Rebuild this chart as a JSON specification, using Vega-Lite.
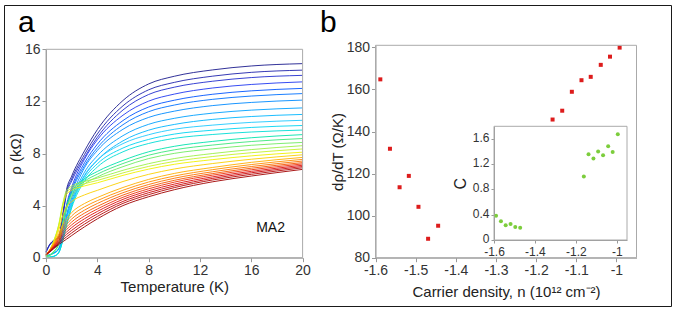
{
"$schema": "https://vega.github.io/schema/vega-lite/v6.json",
"width": 667, "height": 301,
"autosize": {"type": "none"},
"padding": {"left": 4, "top": 5, "right": 7, "bottom": 17},
"background": "white",
"config": {
  "view": {"stroke": "#1a1a1a", "strokeWidth": 1},
  "font": "Liberation Sans",
  "locale": {"number": {"decimal": ".", "thousands": ",", "grouping": [3], "currency": ["$", ""], "minus": "-"}},
  "axis": {"grid": false, "labelFlush": false, "labelOverlap": false, "labelFont": "Liberation Sans", "labelFontSize": 14, "labelColor": "#333", "titleFont": "Liberation Sans", "titleFontSize": 15, "titleFontWeight": "normal", "titleColor": "#222", "domainColor": "#999", "tickColor": "#999", "tickSize": 4, "labelPadding": 2, "titlePadding": 2}
},
"datasets": {
"rho": [
{"k":0,"t":0,"r":0.45},{"k":0,"t":0.3,"r":1.04},{"k":0,"t":0.6,"r":1.34},{"k":0,"t":1,"r":1.64},{"k":0,"t":1.3,"r":3.28},{"k":0,"t":1.6,"r":5.22},{"k":0,"t":2,"r":6.26},{"k":0,"t":3,"r":8.2},{"k":0,"t":4,"r":9.83},{"k":0,"t":6,"r":12.07},{"k":0,"t":8,"r":13.34},{"k":0,"t":10,"r":13.93},{"k":0,"t":13,"r":14.42},{"k":0,"t":16,"r":14.72},{"k":0,"t":20,"r":14.9},
{"k":1,"t":0,"r":0.43},{"k":1,"t":0.3,"r":1.01},{"k":1,"t":0.6,"r":1.3},{"k":1,"t":1,"r":1.58},{"k":1,"t":1.3,"r":3.17},{"k":1,"t":1.6,"r":5.04},{"k":1,"t":2,"r":6.05},{"k":1,"t":3,"r":7.92},{"k":1,"t":4,"r":9.5},{"k":1,"t":6,"r":11.66},{"k":1,"t":8,"r":12.89},{"k":1,"t":10,"r":13.46},{"k":1,"t":13,"r":13.94},{"k":1,"t":16,"r":14.23},{"k":1,"t":20,"r":14.4},
{"k":2,"t":0,"r":0.42},{"k":2,"t":0.3,"r":0.98},{"k":2,"t":0.6,"r":1.26},{"k":2,"t":1,"r":1.54},{"k":2,"t":1.3,"r":3.08},{"k":2,"t":1.6,"r":4.9},{"k":2,"t":2,"r":5.88},{"k":2,"t":3,"r":7.7},{"k":2,"t":4,"r":9.24},{"k":2,"t":6,"r":11.34},{"k":2,"t":8,"r":12.53},{"k":2,"t":10,"r":13.09},{"k":2,"t":13,"r":13.55},{"k":2,"t":16,"r":13.83},{"k":2,"t":20,"r":14.0},
{"k":3,"t":0,"r":0.27},{"k":3,"t":0.3,"r":0.54},{"k":3,"t":0.6,"r":0.81},{"k":3,"t":1,"r":1.08},{"k":3,"t":1.3,"r":2.3},{"k":3,"t":1.6,"r":4.05},{"k":3,"t":2,"r":5.4},{"k":3,"t":3,"r":7.56},{"k":3,"t":4,"r":9.05},{"k":3,"t":6,"r":10.94},{"k":3,"t":8,"r":12.02},{"k":3,"t":10,"r":12.56},{"k":3,"t":13,"r":13.03},{"k":3,"t":16,"r":13.3},{"k":3,"t":20,"r":13.5},
{"k":4,"t":0,"r":0.26},{"k":4,"t":0.3,"r":0.52},{"k":4,"t":0.6,"r":0.78},{"k":4,"t":1,"r":1.04},{"k":4,"t":1.3,"r":2.21},{"k":4,"t":1.6,"r":3.9},{"k":4,"t":2,"r":5.2},{"k":4,"t":3,"r":7.28},{"k":4,"t":4,"r":8.71},{"k":4,"t":6,"r":10.53},{"k":4,"t":8,"r":11.57},{"k":4,"t":10,"r":12.09},{"k":4,"t":13,"r":12.55},{"k":4,"t":16,"r":12.81},{"k":4,"t":20,"r":13.0},
{"k":5,"t":0,"r":0.25},{"k":5,"t":0.3,"r":0.5},{"k":5,"t":0.6,"r":0.76},{"k":5,"t":1,"r":1.01},{"k":5,"t":1.3,"r":2.14},{"k":5,"t":1.6,"r":3.78},{"k":5,"t":2,"r":5.04},{"k":5,"t":3,"r":7.06},{"k":5,"t":4,"r":8.44},{"k":5,"t":6,"r":10.21},{"k":5,"t":8,"r":11.21},{"k":5,"t":10,"r":11.72},{"k":5,"t":13,"r":12.16},{"k":5,"t":16,"r":12.41},{"k":5,"t":20,"r":12.6},
{"k":6,"t":0,"r":0.12},{"k":6,"t":0.3,"r":0.24},{"k":6,"t":0.6,"r":0.36},{"k":6,"t":1,"r":0.73},{"k":6,"t":1.3,"r":1.69},{"k":6,"t":1.6,"r":3.27},{"k":6,"t":2,"r":4.6},{"k":6,"t":3,"r":6.9},{"k":6,"t":4,"r":8.23},{"k":6,"t":6,"r":9.86},{"k":6,"t":8,"r":10.77},{"k":6,"t":10,"r":11.25},{"k":6,"t":13,"r":11.68},{"k":6,"t":16,"r":11.92},{"k":6,"t":20,"r":12.1},
{"k":7,"t":0,"r":0.12},{"k":7,"t":0.3,"r":0.23},{"k":7,"t":0.6,"r":0.35},{"k":7,"t":1,"r":0.69},{"k":7,"t":1.3,"r":1.61},{"k":7,"t":1.6,"r":3.11},{"k":7,"t":2,"r":4.37},{"k":7,"t":3,"r":6.56},{"k":7,"t":4,"r":7.82},{"k":7,"t":6,"r":9.37},{"k":7,"t":8,"r":10.24},{"k":7,"t":10,"r":10.7},{"k":7,"t":13,"r":11.1},{"k":7,"t":16,"r":11.33},{"k":7,"t":20,"r":11.5},
{"k":8,"t":0,"r":0.11},{"k":8,"t":0.3,"r":0.22},{"k":8,"t":0.6,"r":0.33},{"k":8,"t":1,"r":0.66},{"k":8,"t":1.3,"r":1.54},{"k":8,"t":1.6,"r":2.97},{"k":8,"t":2,"r":4.18},{"k":8,"t":3,"r":6.27},{"k":8,"t":4,"r":7.48},{"k":8,"t":6,"r":8.97},{"k":8,"t":8,"r":9.79},{"k":8,"t":10,"r":10.23},{"k":8,"t":13,"r":10.62},{"k":8,"t":16,"r":10.84},{"k":8,"t":20,"r":11.0},
{"k":9,"t":0,"r":0.0},{"k":9,"t":0.3,"r":0.05},{"k":9,"t":0.6,"r":0.11},{"k":9,"t":1,"r":0.42},{"k":9,"t":1.3,"r":1.37},{"k":9,"t":1.6,"r":2.64},{"k":9,"t":2,"r":4.11},{"k":9,"t":3,"r":6.33},{"k":9,"t":4,"r":7.49},{"k":9,"t":6,"r":8.76},{"k":9,"t":8,"r":9.44},{"k":9,"t":10,"r":9.86},{"k":9,"t":13,"r":10.18},{"k":9,"t":16,"r":10.39},{"k":9,"t":20,"r":10.55},
{"k":10,"t":0,"r":0.0},{"k":10,"t":0.3,"r":0.05},{"k":10,"t":0.6,"r":0.1},{"k":10,"t":1,"r":0.41},{"k":10,"t":1.3,"r":1.32},{"k":10,"t":1.6,"r":2.54},{"k":10,"t":2,"r":3.96},{"k":10,"t":3,"r":6.09},{"k":10,"t":4,"r":7.21},{"k":10,"t":6,"r":8.42},{"k":10,"t":8,"r":9.08},{"k":10,"t":10,"r":9.49},{"k":10,"t":13,"r":9.79},{"k":10,"t":16,"r":10.0},{"k":10,"t":20,"r":10.15},
{"k":11,"t":0,"r":0.0},{"k":11,"t":0.3,"r":0.05},{"k":11,"t":0.6,"r":0.1},{"k":11,"t":1,"r":0.39},{"k":11,"t":1.3,"r":1.27},{"k":11,"t":1.6,"r":2.45},{"k":11,"t":2,"r":3.82},{"k":11,"t":3,"r":5.88},{"k":11,"t":4,"r":6.96},{"k":11,"t":6,"r":8.13},{"k":11,"t":8,"r":8.77},{"k":11,"t":10,"r":9.16},{"k":11,"t":13,"r":9.46},{"k":11,"t":16,"r":9.65},{"k":11,"t":20,"r":9.8},
{"k":12,"t":0,"r":0.09},{"k":12,"t":0.3,"r":0.19},{"k":12,"t":0.6,"r":0.47},{"k":12,"t":1,"r":1.13},{"k":12,"t":1.3,"r":2.65},{"k":12,"t":1.6,"r":3.97},{"k":12,"t":2,"r":5.01},{"k":12,"t":3,"r":6.05},{"k":12,"t":4,"r":6.62},{"k":12,"t":6,"r":7.47},{"k":12,"t":8,"r":8.13},{"k":12,"t":10,"r":8.55},{"k":12,"t":13,"r":8.93},{"k":12,"t":16,"r":9.21},{"k":12,"t":20,"r":9.45},
{"k":13,"t":0,"r":0.09},{"k":13,"t":0.3,"r":0.18},{"k":13,"t":0.6,"r":0.46},{"k":13,"t":1,"r":1.1},{"k":13,"t":1.3,"r":2.56},{"k":13,"t":1.6,"r":3.84},{"k":13,"t":2,"r":4.85},{"k":13,"t":3,"r":5.86},{"k":13,"t":4,"r":6.41},{"k":13,"t":6,"r":7.23},{"k":13,"t":8,"r":7.87},{"k":13,"t":10,"r":8.28},{"k":13,"t":13,"r":8.65},{"k":13,"t":16,"r":8.92},{"k":13,"t":20,"r":9.15},
{"k":14,"t":0,"r":0.09},{"k":14,"t":0.3,"r":0.18},{"k":14,"t":0.6,"r":0.44},{"k":14,"t":1,"r":1.06},{"k":14,"t":1.3,"r":2.48},{"k":14,"t":1.6,"r":3.72},{"k":14,"t":2,"r":4.69},{"k":14,"t":3,"r":5.66},{"k":14,"t":4,"r":6.2},{"k":14,"t":6,"r":6.99},{"k":14,"t":8,"r":7.61},{"k":14,"t":10,"r":8.01},{"k":14,"t":13,"r":8.36},{"k":14,"t":16,"r":8.63},{"k":14,"t":20,"r":8.85},
{"k":15,"t":0,"r":0.17},{"k":15,"t":0.3,"r":0.6},{"k":15,"t":0.6,"r":1.29},{"k":15,"t":1,"r":2.58},{"k":15,"t":1.3,"r":4.13},{"k":15,"t":1.6,"r":5.16},{"k":15,"t":2,"r":5.5},{"k":15,"t":3,"r":5.85},{"k":15,"t":4,"r":6.11},{"k":15,"t":6,"r":6.71},{"k":15,"t":8,"r":7.22},{"k":15,"t":10,"r":7.61},{"k":15,"t":13,"r":8.0},{"k":15,"t":16,"r":8.3},{"k":15,"t":20,"r":8.6},
{"k":16,"t":0,"r":0.17},{"k":16,"t":0.3,"r":0.58},{"k":16,"t":0.6,"r":1.25},{"k":16,"t":1,"r":2.51},{"k":16,"t":1.3,"r":4.01},{"k":16,"t":1.6,"r":5.01},{"k":16,"t":2,"r":5.34},{"k":16,"t":3,"r":5.68},{"k":16,"t":4,"r":5.93},{"k":16,"t":6,"r":6.51},{"k":16,"t":8,"r":7.01},{"k":16,"t":10,"r":7.39},{"k":16,"t":13,"r":7.77},{"k":16,"t":16,"r":8.06},{"k":16,"t":20,"r":8.35},
{"k":17,"t":0,"r":0.16},{"k":17,"t":0.3,"r":0.57},{"k":17,"t":0.6,"r":1.22},{"k":17,"t":1,"r":2.43},{"k":17,"t":1.3,"r":3.89},{"k":17,"t":1.6,"r":4.86},{"k":17,"t":2,"r":5.18},{"k":17,"t":3,"r":5.51},{"k":17,"t":4,"r":5.75},{"k":17,"t":6,"r":6.32},{"k":17,"t":8,"r":6.8},{"k":17,"t":10,"r":7.17},{"k":17,"t":13,"r":7.53},{"k":17,"t":16,"r":7.82},{"k":17,"t":20,"r":8.1},
{"k":18,"t":0,"r":0.2},{"k":18,"t":0.3,"r":0.59},{"k":18,"t":0.6,"r":1.15},{"k":18,"t":1,"r":2.13},{"k":18,"t":1.3,"r":3.2},{"k":18,"t":1.6,"r":3.91},{"k":18,"t":2,"r":4.31},{"k":18,"t":3,"r":4.82},{"k":18,"t":4,"r":5.17},{"k":18,"t":6,"r":5.85},{"k":18,"t":8,"r":6.4},{"k":18,"t":10,"r":6.81},{"k":18,"t":13,"r":7.23},{"k":18,"t":16,"r":7.56},{"k":18,"t":20,"r":7.9},
{"k":19,"t":0,"r":0.23},{"k":19,"t":0.3,"r":0.62},{"k":19,"t":0.6,"r":1.08},{"k":19,"t":1,"r":1.85},{"k":19,"t":1.3,"r":2.54},{"k":19,"t":1.6,"r":3.0},{"k":19,"t":2,"r":3.47},{"k":19,"t":3,"r":4.16},{"k":19,"t":4,"r":4.62},{"k":19,"t":6,"r":5.39},{"k":19,"t":8,"r":6.01},{"k":19,"t":10,"r":6.47},{"k":19,"t":13,"r":6.93},{"k":19,"t":16,"r":7.32},{"k":19,"t":20,"r":7.7},
{"k":20,"t":0,"r":0.23},{"k":20,"t":0.3,"r":0.59},{"k":20,"t":0.6,"r":1.02},{"k":20,"t":1,"r":1.73},{"k":20,"t":1.3,"r":2.35},{"k":20,"t":1.6,"r":2.77},{"k":20,"t":2,"r":3.21},{"k":20,"t":3,"r":3.9},{"k":20,"t":4,"r":4.38},{"k":20,"t":6,"r":5.18},{"k":20,"t":8,"r":5.81},{"k":20,"t":10,"r":6.27},{"k":20,"t":13,"r":6.76},{"k":20,"t":16,"r":7.15},{"k":20,"t":20,"r":7.55},
{"k":21,"t":0,"r":0.22},{"k":21,"t":0.3,"r":0.56},{"k":21,"t":0.6,"r":0.96},{"k":21,"t":1,"r":1.61},{"k":21,"t":1.3,"r":2.17},{"k":21,"t":1.6,"r":2.56},{"k":21,"t":2,"r":2.97},{"k":21,"t":3,"r":3.65},{"k":21,"t":4,"r":4.16},{"k":21,"t":6,"r":4.99},{"k":21,"t":8,"r":5.62},{"k":21,"t":10,"r":6.1},{"k":21,"t":13,"r":6.6},{"k":21,"t":16,"r":7.0},{"k":21,"t":20,"r":7.42},
{"k":22,"t":0,"r":0.22},{"k":22,"t":0.3,"r":0.54},{"k":22,"t":0.6,"r":0.91},{"k":22,"t":1,"r":1.5},{"k":22,"t":1.3,"r":2.0},{"k":22,"t":1.6,"r":2.35},{"k":22,"t":2,"r":2.74},{"k":22,"t":3,"r":3.42},{"k":22,"t":4,"r":3.94},{"k":22,"t":6,"r":4.81},{"k":22,"t":8,"r":5.45},{"k":22,"t":10,"r":5.94},{"k":22,"t":13,"r":6.46},{"k":22,"t":16,"r":6.87},{"k":22,"t":20,"r":7.3},
{"k":23,"t":0,"r":0.22},{"k":23,"t":0.3,"r":0.52},{"k":23,"t":0.6,"r":0.86},{"k":23,"t":1,"r":1.4},{"k":23,"t":1.3,"r":1.84},{"k":23,"t":1.6,"r":2.16},{"k":23,"t":2,"r":2.52},{"k":23,"t":3,"r":3.2},{"k":23,"t":4,"r":3.74},{"k":23,"t":6,"r":4.64},{"k":23,"t":8,"r":5.29},{"k":23,"t":10,"r":5.8},{"k":23,"t":13,"r":6.34},{"k":23,"t":16,"r":6.75},{"k":23,"t":20,"r":7.2},
{"k":24,"t":0,"r":0.21},{"k":24,"t":0.3,"r":0.5},{"k":24,"t":0.6,"r":0.82},{"k":24,"t":1,"r":1.31},{"k":24,"t":1.3,"r":1.68},{"k":24,"t":1.6,"r":1.97},{"k":24,"t":2,"r":2.31},{"k":24,"t":3,"r":2.99},{"k":24,"t":4,"r":3.55},{"k":24,"t":6,"r":4.48},{"k":24,"t":8,"r":5.14},{"k":24,"t":10,"r":5.65},{"k":24,"t":13,"r":6.21},{"k":24,"t":16,"r":6.63},{"k":24,"t":20,"r":7.1},
{"k":25,"t":0,"r":0.21},{"k":25,"t":0.3,"r":0.48},{"k":25,"t":0.6,"r":0.77},{"k":25,"t":1,"r":1.21},{"k":25,"t":1.3,"r":1.52},{"k":25,"t":1.6,"r":1.79},{"k":25,"t":2,"r":2.1},{"k":25,"t":3,"r":2.78},{"k":25,"t":4,"r":3.36},{"k":25,"t":6,"r":4.32},{"k":25,"t":8,"r":4.99},{"k":25,"t":10,"r":5.51},{"k":25,"t":13,"r":6.09},{"k":25,"t":16,"r":6.52},{"k":25,"t":20,"r":7.0},
{"k":26,"t":0,"r":0.21},{"k":26,"t":0.3,"r":0.46},{"k":26,"t":0.6,"r":0.72},{"k":26,"t":1,"r":1.11},{"k":26,"t":1.3,"r":1.37},{"k":26,"t":1.6,"r":1.6},{"k":26,"t":2,"r":1.9},{"k":26,"t":3,"r":2.58},{"k":26,"t":4,"r":3.17},{"k":26,"t":6,"r":4.17},{"k":26,"t":8,"r":4.84},{"k":26,"t":10,"r":5.38},{"k":26,"t":13,"r":5.97},{"k":26,"t":16,"r":6.4},{"k":26,"t":20,"r":6.9},
{"k":27,"t":0,"r":0.2},{"k":27,"t":0.3,"r":0.44},{"k":27,"t":0.6,"r":0.68},{"k":27,"t":1,"r":1.02},{"k":27,"t":1.3,"r":1.22},{"k":27,"t":1.6,"r":1.42},{"k":27,"t":2,"r":1.7},{"k":27,"t":3,"r":2.37},{"k":27,"t":4,"r":2.98},{"k":27,"t":6,"r":4.0},{"k":27,"t":8,"r":4.68},{"k":27,"t":10,"r":5.22},{"k":27,"t":13,"r":5.83},{"k":27,"t":16,"r":6.27},{"k":27,"t":20,"r":6.78}
],
"drdt": [
{"n":-1.588,"d":164.8},{"n":-1.564,"d":131.8},{"n":-1.540,"d":113.5},{"n":-1.517,"d":118.9},{"n":-1.493,"d":104.2},{"n":-1.469,"d":89.0},{"n":-1.444,"d":95.2},
{"n":-1.159,"d":145.7},{"n":-1.135,"d":149.9},{"n":-1.111,"d":158.9},{"n":-1.087,"d":164.4},{"n":-1.064,"d":166.0},{"n":-1.039,"d":171.7},{"n":-1.016,"d":175.6},{"n":-0.992,"d":179.9}
],
"cdat": [
{"n":-1.590,"c":0.384},{"n":-1.566,"c":0.295},{"n":-1.543,"c":0.232},{"n":-1.519,"c":0.253},{"n":-1.496,"c":0.205},{"n":-1.472,"c":0.195},
{"n":-1.161,"c":1.006},{"n":-1.138,"c":1.358},{"n":-1.114,"c":1.29},{"n":-1.091,"c":1.40},{"n":-1.067,"c":1.343},{"n":-1.042,"c":1.485},{"n":-1.020,"c":1.395},{"n":-0.995,"c":1.675}
]
},
"layer": [
  {"layer": [
    {"data": {"name": "rho"},
     "mark": {"type": "line", "strokeWidth": 0.9, "interpolate": "monotone"},
     "encoding": {
       "x": {"field": "t", "type": "quantitative", "scale": {"domain": [0, 20], "range": [42, 298.6], "nice": false, "zero": false},
             "axis": {"orient": "bottom", "offset": -48.3, "values": [0, 4, 8, 12, 16, 20], "title": "Temperature (K)"}},
       "y": {"field": "r", "type": "quantitative", "scale": {"domain": [0, 16], "range": [252.7, 44.3], "nice": false, "zero": false},
             "axis": {"orient": "left", "offset": -42, "values": [0, 4, 8, 12, 16], "title": "ρ (kΩ)", "titlePadding": 1}},
       "color": {"field": "k", "type": "quantitative", "scale": {"domain": [0, 3.4, 9, 13, 17, 20, 23.5, 27], "range": ["#1a1a8c", "#1f3cff", "#1ec8ff", "#3ce67a", "#f0f000", "#ff8c00", "#e81010", "#a00000"]}, "legend": null},
       "detail": {"field": "k", "type": "nominal"}
     }},
    {"data": {"values": [{}]},
     "mark": {"type": "rect", "fillOpacity": 0, "stroke": "#aaaaaa", "strokeWidth": 1},
     "encoding": {"x": {"datum": 0}, "x2": {"datum": 20}, "y": {"datum": 0}, "y2": {"datum": 16}}},
    {"data": {"values": [{}]},
     "mark": {"type": "text", "text": "MA2", "fontSize": 14, "color": "#111111", "font": "Liberation Sans"},
     "encoding": {"x": {"datum": 17.5}, "y": {"datum": 2.3}}},
    {"data": {"values": [{}]},
     "mark": {"type": "text", "text": "a", "fontSize": 30, "align": "left", "baseline": "alphabetic", "color": "#000000", "font": "Liberation Sans"},
     "encoding": {"x": {"datum": -2.18}, "y": {"datum": 17.35}}}
  ]},
  {"layer": [
    {"data": {"name": "drdt"},
     "mark": {"type": "point", "shape": "square", "filled": true, "size": 16, "color": "#dd1c1c", "opacity": 1},
     "encoding": {
       "x": {"field": "n", "type": "quantitative", "scale": {"domain": [-1.6, -0.95], "range": [371.5, 632.5], "nice": false, "zero": false},
             "axis": {"orient": "bottom", "offset": -48.3, "values": [-1.6, -1.5, -1.4, -1.3, -1.2, -1.1, -1], "format": ".1~f", "title": "Carrier density, n (10¹² cm⁻²)", "titlePadding": 7}},
       "y": {"field": "d", "type": "quantitative", "scale": {"domain": [80, 181], "range": [252.7, 40.3], "nice": false, "zero": false},
             "axis": {"orient": "left", "offset": -371.5, "values": [80, 100, 120, 140, 160, 180], "title": "dρ/dT (Ω/K)", "titlePadding": 1}}
     }},
    {"data": {"values": [{}]},
     "mark": {"type": "rect", "fillOpacity": 0, "stroke": "#aaaaaa", "strokeWidth": 1},
     "encoding": {"x": {"datum": -1.6}, "x2": {"datum": -0.95}, "y": {"datum": 80}, "y2": {"datum": 181}}},
    {"data": {"values": [{}]},
     "mark": {"type": "text", "text": "b", "fontSize": 30, "align": "left", "baseline": "alphabetic", "color": "#000000", "font": "Liberation Sans"},
     "encoding": {"x": {"datum": -1.738}, "y": {"datum": 187.5}}}
  ]},
  {"layer": [
    {"data": {"name": "cdat"},
     "mark": {"type": "circle", "size": 16, "color": "#7ccd3c", "opacity": 1},
     "encoding": {
       "x": {"field": "n", "type": "quantitative", "scale": {"domain": [-1.6, -0.95], "range": [490, 623], "nice": false, "zero": false},
             "axis": {"orient": "bottom", "offset": -66, "values": [-1.6, -1.4, -1.2, -1], "format": ".1~f", "title": null, "labelFontSize": 12, "labelPadding": 3, "tickSize": 3}},
       "y": {"field": "c", "type": "quantitative", "scale": {"domain": [0, 1.8], "range": [235, 121.3], "nice": false, "zero": false},
             "axis": {"orient": "left", "offset": -490, "values": [0, 0.4, 0.8, 1.2, 1.6], "format": ".1~f", "title": "C", "titleFontSize": 16, "titlePadding": 4, "labelFontSize": 12, "labelOffset": -1.5, "tickSize": 3}}
     }},
    {"data": {"values": [{}]},
     "mark": {"type": "rect", "fillOpacity": 0, "stroke": "#aaaaaa", "strokeWidth": 1},
     "encoding": {"x": {"datum": -1.6}, "x2": {"datum": -0.95}, "y": {"datum": 0}, "y2": {"datum": 1.8}}}
  ]}
],
"resolve": {"scale": {"x": "independent", "y": "independent"}, "axis": {"x": "independent", "y": "independent"}}
}
